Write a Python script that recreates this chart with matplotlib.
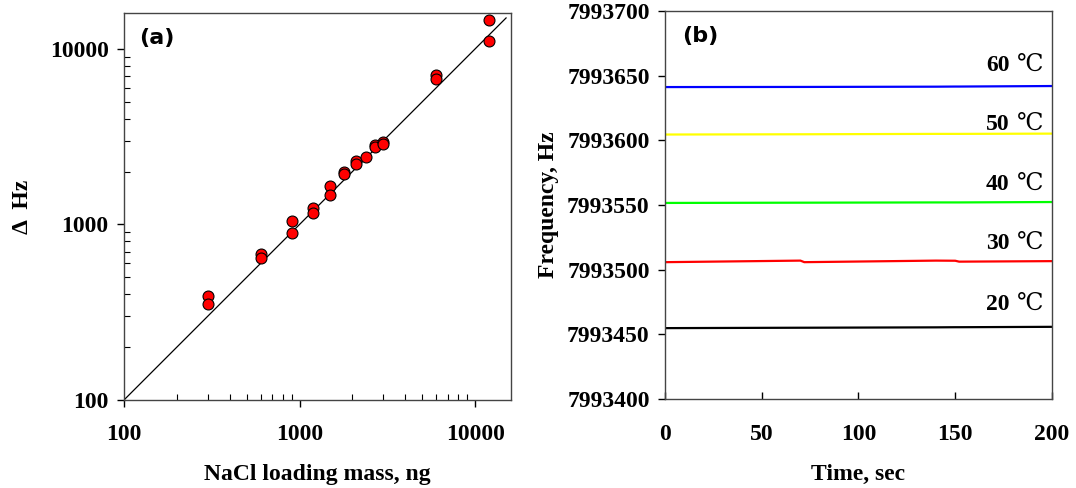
import matplotlib
matplotlib.use("Agg")
import matplotlib.pyplot as plt
from matplotlib.ticker import LogLocator, FixedLocator, NullFormatter

# (a) NaCl loading mass vs frequency shift
mass_ng = [300, 300, 600, 600, 900, 900, 1200, 1200, 1500, 1500, 1800, 1800,
           2100, 2100, 2400, 2700, 2700, 3000, 3000, 6000, 6000, 12000, 12000]
delta_hz = [390, 354, 681, 644, 1040, 898, 1245, 1159, 1652, 1479, 2000, 1932,
            2311, 2213, 2434, 2825, 2775, 2950, 2860, 7144, 6700, 14560, 11100]
fit_x = [100, 15000]
fit_y = [100, 15000]

# (b) frequency over time at different temperatures
time_s = [0, 70, 72, 140, 150, 152, 200]
freq = {
    "60": [7993641.2, 7993641.3, 7993641.3, 7993641.5, 7993641.6, 7993641.6, 7993642.0],
    "50": [7993604.5, 7993604.7, 7993604.7, 7993605.0, 7993605.0, 7993605.0, 7993605.2],
    "40": [7993551.6, 7993551.8, 7993551.8, 7993552.0, 7993552.0, 7993552.0, 7993552.3],
    "30": [7993505.8, 7993507.0, 7993505.8, 7993507.0, 7993506.9, 7993506.2, 7993506.6],
    "20": [7993454.8, 7993455.1, 7993455.1, 7993455.4, 7993455.5, 7993455.5, 7993455.8],
}
colors = {"60": "#0000ff", "50": "#ffff00", "40": "#00ff00", "30": "#ff0000", "20": "#000000"}
label_y = {"60": 7993658, "50": 7993612, "40": 7993566, "30": 7993520, "20": 7993473}

serif = "Liberation Serif"
tick_font = dict(family=serif, weight="bold", size=17)

fig = plt.figure(figsize=(10.76, 4.88), dpi=100)
ax1 = fig.add_axes([0.1152, 0.1803, 0.3597, 0.793])
ax2 = fig.add_axes([0.618, 0.1824, 0.3597, 0.795])

# left panel
ax1.plot(fit_x, fit_y, color="black", lw=0.9)
ax1.scatter(mass_ng, delta_hz, s=62, color="#ff0000", edgecolor="black",
            linewidth=0.8, zorder=3)
ax1.set_xscale("log")
ax1.set_yscale("log")
ax1.set_xlim(100, 16000)
ax1.set_ylim(100, 16000)
ax1.xaxis.set_major_locator(FixedLocator([100, 1000, 10000]))
ax1.yaxis.set_major_locator(FixedLocator([100, 1000, 10000]))
ax1.xaxis.set_minor_locator(LogLocator(base=10, subs=range(2, 10)))
ax1.yaxis.set_minor_locator(LogLocator(base=10, subs=range(2, 10)))
ax1.xaxis.set_minor_formatter(NullFormatter())
ax1.yaxis.set_minor_formatter(NullFormatter())
ax1.set_xticklabels(["100", "1000", "10000"])
ax1.set_yticklabels(["100", "1000", "10000"])
ax1.tick_params(which="major", direction="out", length=5, width=1)
ax1.tick_params(axis="y", which="major", pad=6)
ax1.tick_params(axis="x", which="major", pad=12)
ax1.tick_params(which="minor", direction="in", length=4, width=0.8)
ax1.set_xlabel("NaCl loading mass, ng", fontdict=tick_font, labelpad=14)
ax1.set_ylabel("Δ  Hz", fontdict=tick_font, labelpad=12)
ax1.text(0.04, 0.935, "(a)", transform=ax1.transAxes, fontsize=16,
         fontweight="bold", family="DejaVu Sans", va="center", ha="left")

# right panel
for key in ["20", "30", "40", "50", "60"]:
    ax2.plot(time_s, freq[key], color=colors[key], lw=1.6)
    ax2.text(178, label_y[key], key, fontdict=tick_font, ha="right", va="center")
    ax2.text(182, label_y[key], "℃", family=[serif, "DejaVu Serif", "Noto Sans CJK KR"],
             fontsize=17, ha="left", va="center")
ax2.set_xlim(0, 200)
ax2.set_ylim(7993400, 7993700)
ax2.set_xticks([0, 50, 100, 150, 200])
ax2.set_yticks([7993400, 7993450, 7993500, 7993550, 7993600, 7993650, 7993700])
ax2.ticklabel_format(axis="y", useOffset=False, style="plain")
ax2.tick_params(axis="y", direction="out", length=5, width=1, pad=6)
ax2.tick_params(axis="x", direction="in", length=5, width=1, pad=18)
ax2.set_xlabel("Time, sec", fontdict=tick_font, labelpad=14)
ax2.set_ylabel("Frequency, Hz", fontdict=tick_font, labelpad=6)
ax2.text(0.045, 0.935, "(b)", transform=ax2.transAxes, fontsize=16,
         fontweight="bold", family="DejaVu Sans", va="center", ha="left")

for ax in (ax1, ax2):
    for sp in ax.spines.values():
        sp.set_color("#444444")
        sp.set_linewidth(1.0)
    for lab in ax.get_xticklabels() + ax.get_yticklabels():
        lab.set_fontfamily(serif)
        lab.set_fontweight("bold")
        lab.set_fontsize(17)

fig.savefig("out.png", dpi=100)
